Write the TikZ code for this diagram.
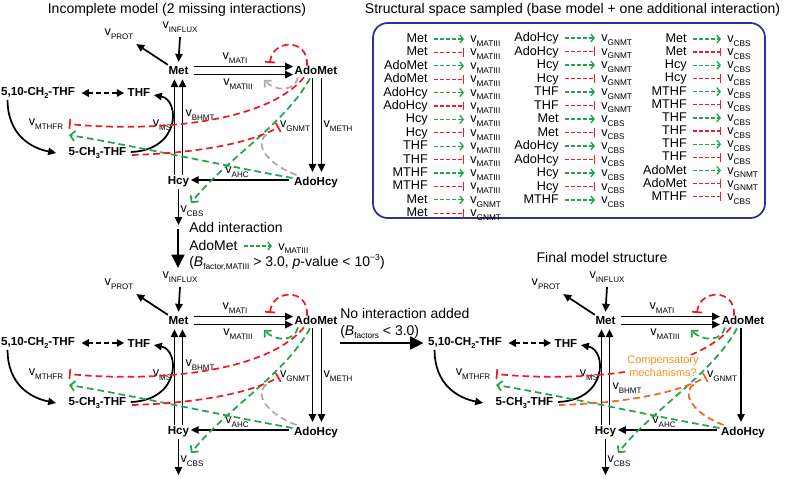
\documentclass[tikz,border=0pt]{standalone}
\usepackage{fontspec}
\setmainfont{Liberation Sans}
\usetikzlibrary{arrows.meta,calc}
\definecolor{cred}{HTML}{ED1C24}
\definecolor{cgreen}{HTML}{1FA64A}
\definecolor{cgray}{HTML}{A7A9AC}
\definecolor{corange}{HTML}{F26522}
\definecolor{ctext}{HTML}{F7941D}
\definecolor{cnavy}{HTML}{2E3192}
\newcommand\sbn[1]{\raisebox{-2.6pt}{\fontsize{6}{6}\selectfont #1}}
\newcommand\sbb[1]{\raisebox{-2.8pt}{\fontsize{6.2}{6}\selectfont #1}}
\newcommand\sbd[1]{\raisebox{-1.8pt}{\fontsize{5.5}{6}\selectfont #1}}
\tikzset{
 nd/.style={font=\fontsize{8.7}{10}\selectfont\bfseries, inner sep=1pt},
 lab/.style={font=\fontsize{9.5}{10}\selectfont, inner sep=0.5pt},
 ttl/.style={font=\fontsize{10.5}{12}\selectfont, inner sep=0pt},
 btx/.style={font=\fontsize{9.5}{11}\selectfont, inner sep=0pt},
 arr/.style={line width=1.3pt, -{Triangle[length=6pt,width=5.5pt]}},
 darr/.style={line width=1.3pt, dash pattern=on 3.5pt off 2.5pt, {Triangle[length=5.5pt,width=5.5pt]}-{Triangle[length=5.5pt,width=5.5pt]}},
 regl/.style={line width=1.3pt, dash pattern=on 5pt off 3pt},
 gact/.style={regl, cgreen, -{Straight Barb[length=3.5pt,width=7.5pt]}},
 grayact/.style={regl, cgray, -{Straight Barb[length=3.5pt,width=7.5pt]}},
 rinh/.style={regl, cred, -{Bar[width=7.5pt]}},
 oinh/.style={regl, corange, -{Bar[width=7.5pt]}},
 grayl/.style={regl, cgray},
 orl/.style={regl, corange},
 bact/.style={line width=1pt, dash pattern=on 3pt off 1.5pt, cgreen, -{Straight Barb[length=2.5pt,width=6pt]}},
 binh/.style={line width=1pt, dash pattern=on 3pt off 1.5pt, cred, -{Bar[width=6.5pt]}},
 bigarr/.style={line width=1.8pt, -{Triangle[length=10pt,width=9.5pt]}},
}
% #1 MATIII regulator style, #2 CH3-GNMT style, #3 AdoHcy-GNMT style, #4 y of v_BHMT
\newcommand\netw[4]{%
\node[nd] (Met) at (178.5,70.5) {Met};
\node[nd] (AdoMet) at (316,70.5) {AdoMet};
\node[nd] (Hcy) at (178.5,182) {Hcy};
\node[nd] (AdoHcy) at (316,182) {AdoHcy};
\node[nd] (CH2) at (38,93) {5,10-CH\sbd{2}-THF};
\node[nd] (THF) at (139,93) {THF};
\node[nd] (CH3) at (97.5,153) {5-CH\sbd{3}-THF};
\node[lab] (INFLUX) at (180,27) {v\sbn{INFLUX}};
\node[lab] (PROT) at (119,34) {v\sbn{PROT}};
\node[lab] (MATI) at (235,58) {v\sbn{MATI}};
\node[lab] (MATIII) at (238,84) {v\sbn{MATIII}};
\node[lab] (MS) at (162,125) {v\sbn{MS}};
\node[lab] (BHMT) at (200,#4) {v\sbn{BHMT}};
\node[lab] (GNMT) at (295,126) {v\sbn{GNMT}};
\node[lab] (AHC) at (237,172) {v\sbn{AHC}};
\node[lab] (MTHFR) at (46,124) {v\sbn{MTHFR}};
\node[lab] (CBS) at (192,211) {v\sbn{CBS}};
\coordinate (cbsend) at (178.5,225);
\coordinate (matibar) at (270,63);
\coordinate (matiiiend) at (264,80);
\coordinate (mthfrbar) at (69,124);
\coordinate (mthfrarr) at (69,135);
\coordinate (cbsarr) at (191,203);
\coordinate (gnmtbar) at (279,127);
\coordinate (gnmtg) at (268,134);
\draw[arr] ($(INFLUX.south)+(0,4)$) -- ($(Met.north)+(0,-3)$);
\draw[arr] ($(Met.north west)+(1,0)$) -- ($(PROT.south east)+(2,4)$);
\draw[arr] ($(Met.east)+(4,-4)$) -- ($(AdoMet.west)+(0,-4)$);
\draw[arr] ($(Met.east)+(4,4)$) -- ($(AdoMet.west)+(0,4)$);
\draw[arr] ($(Hcy.north)+(-4,0)$) -- ($(Met.south)+(-4,3)$);
\draw[arr] ($(Hcy.north)+(4,0)$) -- ($(Met.south)+(4,3)$);
\draw[arr] ($(AdoHcy.west)+(-3,-2)$) -- ($(Hcy.east)+(0,-2)$);
\draw[arr] (Hcy.south) -- (cbsend);
\draw[darr] ($(CH2.east)+(5,0)$) -- ($(THF.west)+(-2,0)$);
\draw[arr] ($(CH2.south west)+(8,0)$) .. controls +(0,35) and +(-25,-5) .. ($(CH3.west)+(-11,0)$);
\draw[arr] ($(CH3.east)+(3,-1)$) .. controls +(50,-2) and +(26,5) .. ($(THF.east)+(2,2)$);
\draw[rinh] ($(AdoMet.north)+(-9,1)$) .. controls +(2,-28) and +(2,-24) .. (matibar);
\draw[#1] ($(AdoMet.south)+(-18,1)$) .. controls +(-3,14) and +(12,12) .. (matiiiend);
\draw[rinh] ($(AdoMet.south)+(-12,1)$) .. controls +(-39,47) and +(80,8) .. (mthfrbar);
\draw[gact] ($(AdoHcy.west)+(0,-4)$) .. controls +(-72,-13) and +(61,10) .. (mthfrarr);
\draw[gact] ($(AdoMet.south)+(-6,2)$) .. controls +(-25,46) and +(34,-43) .. (cbsarr);
\draw[#2] ($(CH3.east)+(4,2)$) .. controls +(67,-2) and +(-29,16) .. (gnmtbar);
\draw[#3] ($(AdoHcy.north west)+(4,0)$) .. controls +(-36,-14) and +(-13,6) .. (gnmtg);
}
\newcommand\methdbl{%
\draw[arr] ($(AdoMet.south)+(-3.5,2)$) -- ($(AdoHcy.north)+(-3.5,-3)$);
\draw[arr] ($(AdoMet.south)+(5.5,2)$) -- ($(AdoHcy.north)+(5.5,-3)$);
\node[lab] (METH) at (338,126) {v\sbn{METH}};
}
% #1 column name, #2 label right x, #3 v left x, #4 first baseline, #5 row step, #6 list
\newcommand\boxcol[6]{%
\foreach \lab/\typ/\sub [count=\i from 0] in {#6} {
 \node[btx, anchor=base east] (#1l\i) at (#2,{#4+#5*\i}) {\lab};
 \node[btx, anchor=base west] (#1v\i) at (#3,{#4+#5*\i}) {v\sbb{\sub}};
 \if\typ g\relax
  \draw[bact] ($(#1l\i.base east)+(6,-3.5)$) -- ($(#1v\i.base west)+(-6,-3.5)$);
 \else
  \draw[binh] ($(#1l\i.base east)+(6,-3.5)$) -- ($(#1v\i.base west)+(-6,-3.5)$);
 \fi
}}
\begin{document}
\begin{tikzpicture}[x=0.75pt,y=-0.75pt]
\useasboundingbox (0,0) rectangle (787,479);
% titles
\node[ttl, anchor=base] (t1) at (177,13) {Incomplete model (2 missing interactions)};
\node[ttl, anchor=base] (t2) at (572.5,13) {Structural space sampled (base model + one additional interaction)};
\node[ttl, anchor=base] (t3) at (602,262) {Final model structure};
% networks
\begin{scope}[name prefix=a-]
\netw{grayact}{rinh}{grayl}{115}
\methdbl
\end{scope}
\begin{scope}[shift={(0,250)}, name prefix=b-]
\netw{gact}{rinh}{grayl}{115}
\methdbl
\end{scope}
\begin{scope}[shift={(427,250)}, name prefix=f-]
\netw{gact}{oinh}{orl}{138}
\draw[arr] ($(AdoMet.south)+(-2,2)$) -- ($(AdoHcy.north)+(-2,-3)$);
\node[font=\fontsize{8.2}{9.8}\selectfont, text=ctext, fill=white, inner sep=0.5pt, align=center] (comp) at (236,116.5) {Compensatory\\mechanisms?};
\end{scope}
% transition: add interaction
\coordinate (va) at (178,229);
\coordinate (vb) at (178,268);
\draw[bigarr] (va) -- (vb);
\node[ttl, anchor=base west] (addi) at (189,232) {Add interaction};
\node[ttl, anchor=base west] (addm) at (189,250) {AdoMet};
\node[btx, anchor=base west] (addv) at (278,250) {v\sbb{MATIII}};
\draw[bact] ($(addm.base east)+(6,-4)$) -- ($(addv.base west)+(-6,-4)$);
\node[ttl, anchor=base west] (addb) at (189,266) {(\textit{B}\sbb{factor,MATIII} > 3.0, \textit{p}-value < 10\raisebox{4pt}{\fontsize{6.5}{7}\selectfont −3})};
% transition: no interaction
\node[ttl, anchor=base west] (noi) at (340,318) {No interaction added};
\node[ttl, anchor=base west] (nob) at (340,335) {(\textit{B}\sbb{factors} < 3.0)};
\coordinate (ha) at (340,343);
\draw[bigarr] (ha) -- ($(f-CH2.west)+(-3,0)$);
% structural space box
\node[draw=cnavy, line width=1.3pt, rounded corners=11pt, minimum width=294pt, minimum height=146.25pt, inner sep=0pt] (sbox) at (569,120.5) {};
\boxcol{ca}{428}{470}{42.5}{13.4}{Met/g/MATIII, Met/r/MATIII, AdoMet/g/MATIII, AdoMet/r/MATIII, AdoHcy/g/MATIII, AdoHcy/r/MATIII, Hcy/g/MATIII, Hcy/r/MATIII, THF/g/MATIII, THF/r/MATIII, MTHF/g/MATIII, MTHF/r/MATIII, Met/g/GNMT, Met/r/GNMT}
\boxcol{cb}{559}{601}{41.5}{13.5}{AdoHcy/g/GNMT, AdoHcy/r/GNMT, Hcy/g/GNMT, Hcy/r/GNMT, THF/g/GNMT, THF/r/GNMT, Met/g/CBS, Met/r/CBS, AdoHcy/g/CBS, AdoHcy/r/CBS, Hcy/g/CBS, Hcy/r/CBS, MTHF/g/CBS}
\boxcol{cc}{687}{727}{42.5}{13.15}{Met/g/CBS, Met/r/CBS, Hcy/g/CBS, Hcy/r/CBS, MTHF/g/CBS, MTHF/r/CBS, THF/g/CBS, THF/r/CBS, THF/g/CBS, THF/r/CBS, AdoMet/g/GNMT, AdoMet/r/GNMT, MTHF/r/CBS}
\end{tikzpicture}
\end{document}
